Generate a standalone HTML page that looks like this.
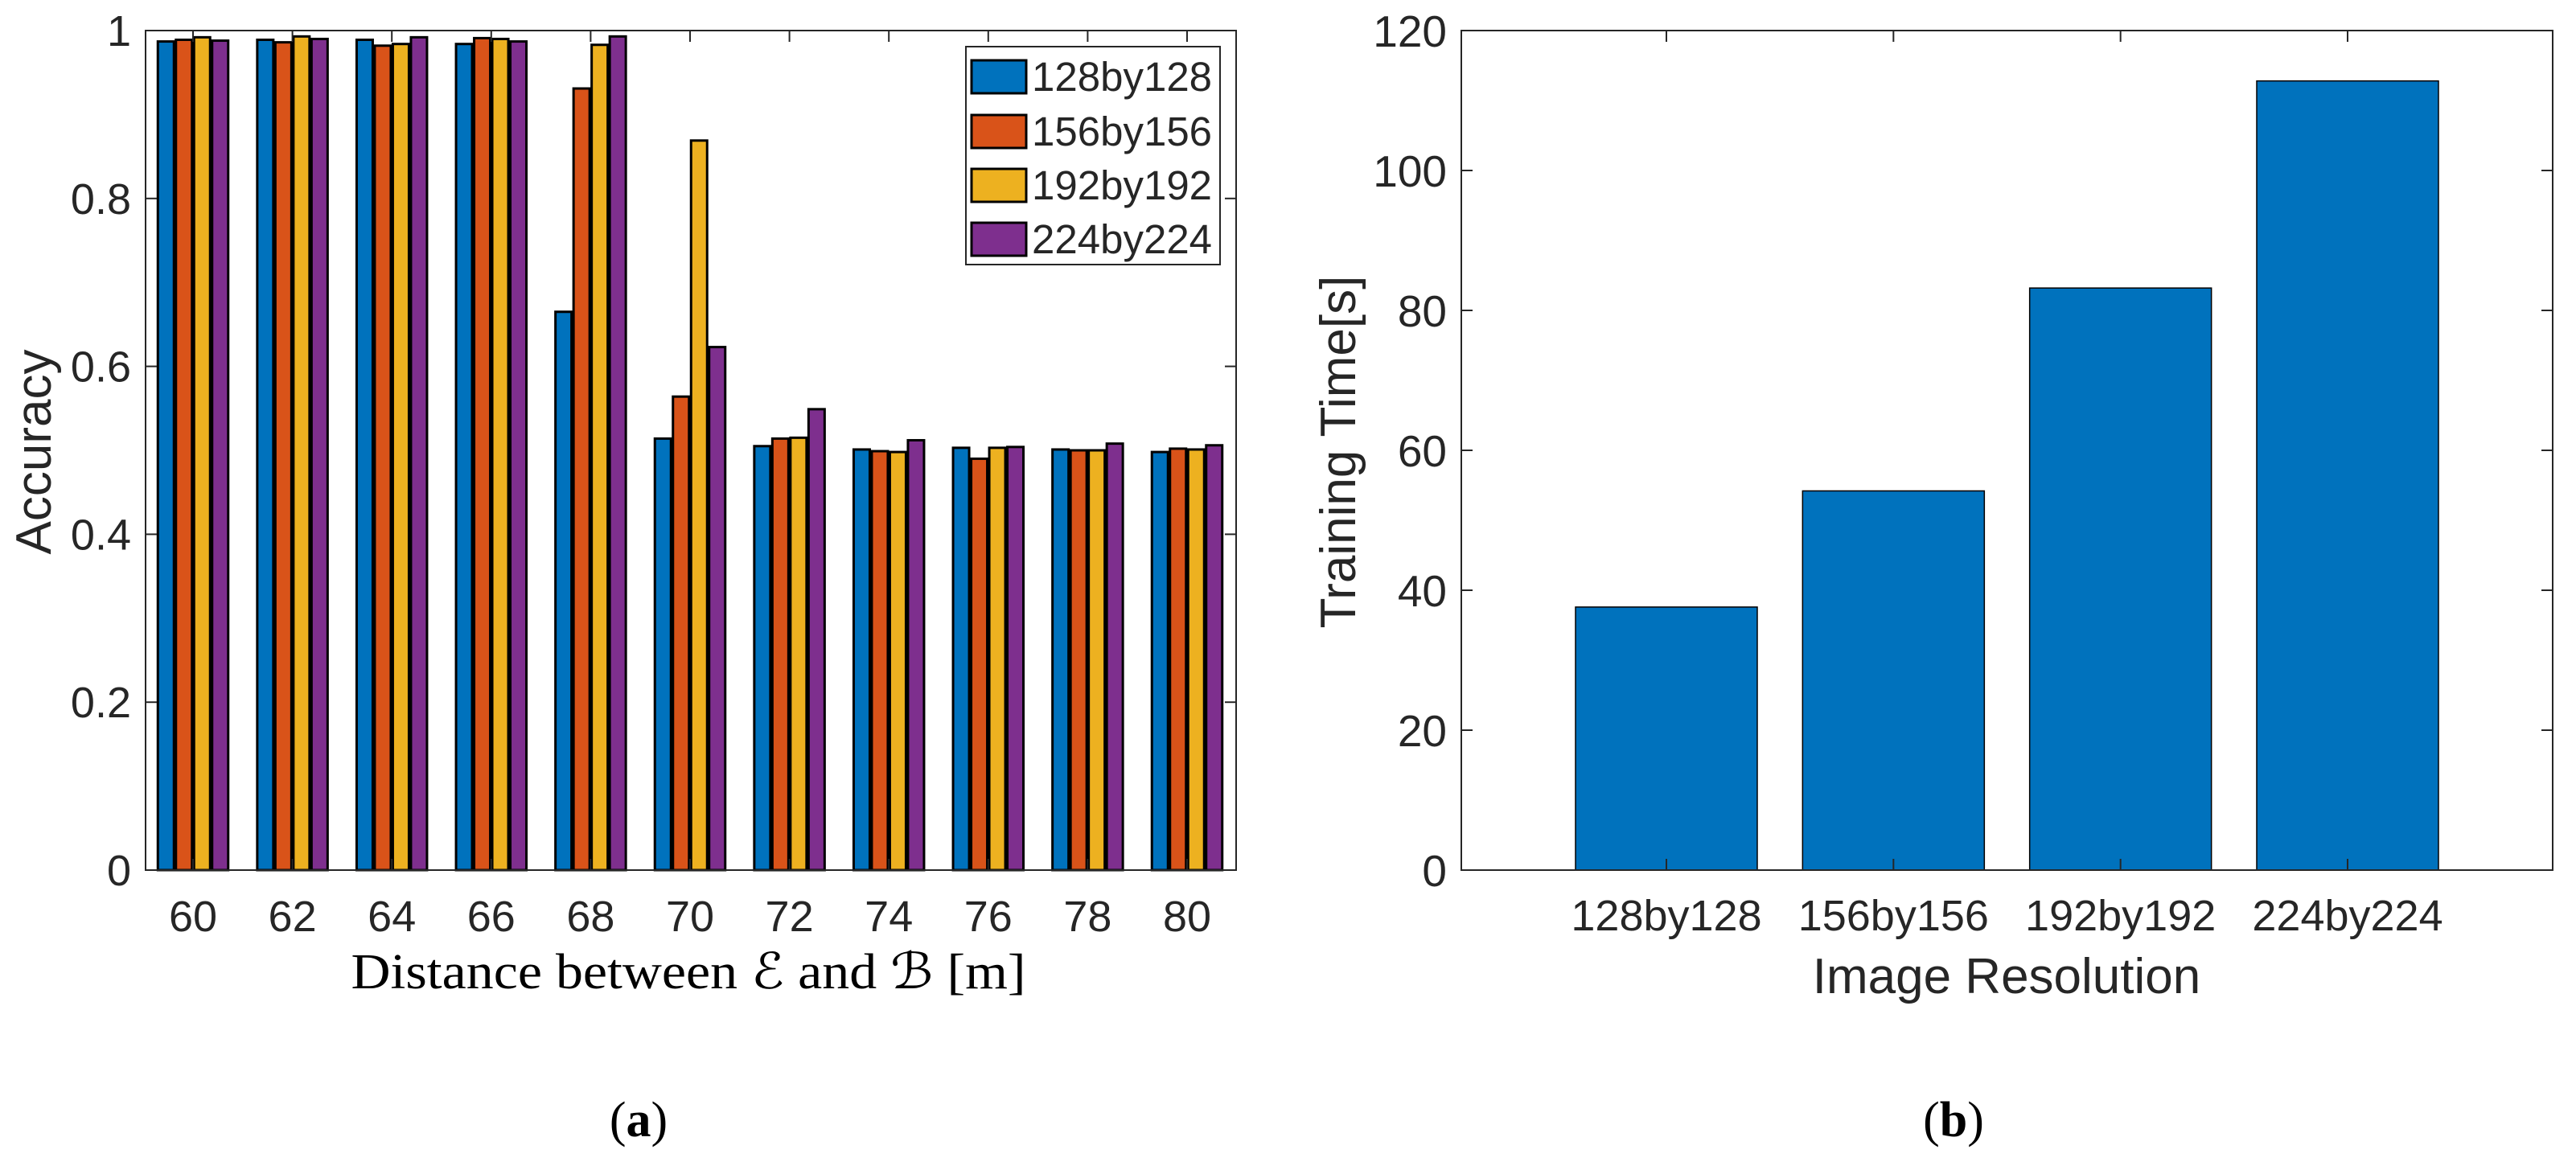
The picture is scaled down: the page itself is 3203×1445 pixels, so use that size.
<!DOCTYPE html>
<html><head><meta charset="utf-8"><style>
html,body{margin:0;padding:0;background:#fff;}
svg{display:block;}
text{fill:#262626;font-family:"Liberation Sans",Arial,sans-serif;}
.serif{font-family:"Liberation Serif",serif;fill:#000;}
</style></head><body>
<svg id="fig" width="3203" height="1445" viewBox="0 0 3203 1445" xmlns="http://www.w3.org/2000/svg">
<g id="chartA"></g>
<g id="chartB"></g>
<text class="serif" x="794" y="1413" font-size="62" text-anchor="middle">(<tspan font-weight="bold">a</tspan>)</text>
<text class="serif" x="2429" y="1413" font-size="62" text-anchor="middle">(<tspan font-weight="bold">b</tspan>)</text>
</svg>
<script>
// ---- Chart A data ----
const distances = [60,62,64,66,68,70,72,74,76,78,80];
const seriesNames = ["128by128","156by156","192by192","224by224"];
const acc128 = [0.987,0.989,0.989,0.984,0.665,0.514,0.505,0.501,0.503,0.501,0.498];
const acc156 = [0.989,0.986,0.982,0.991,0.931,0.564,0.514,0.499,0.490,0.500,0.502];
const acc192 = [0.992,0.993,0.984,0.990,0.983,0.869,0.515,0.498,0.503,0.500,0.501];
const acc224 = [0.988,0.990,0.992,0.987,0.993,0.623,0.549,0.512,0.504,0.508,0.506];
const accTicks = [0,0.2,0.4,0.6,0.8,1];
const accTickLabels = ["0","0.2","0.4","0.6","0.8","1"];
// ---- Chart B data ----
const resolutions = ["128by128","156by156","192by192","224by224"];
const trainTimes = [37.6,54.2,83.2,112.8];
const timeTicks = [0,20,40,60,80,100,120];

const NS="http://www.w3.org/2000/svg";
function mk(tag,attrs,parent,txt){const e=document.createElementNS(NS,tag);for(const k in attrs)e.setAttribute(k,attrs[k]);if(txt!==undefined)e.textContent=txt;parent.appendChild(e);return e;}

// Chart A
(function(){
  const g=document.getElementById('chartA');
  const L=181,R=1537,T=38,B=1082;
  const x0=240, dx=(1476-240)/10;
  const xS=d=>x0+(d-60)/2*dx;
  const yS=v=>B-v*(B-T);
  const colors=["#0072BD","#D95319","#EDB120","#7E2F8E"];
  const series=[acc128,acc156,acc192,acc224];
  const pitch=22.5,bw=20;
  let r=mk('rect',{x:L,y:T,width:R-L,height:B-T,fill:'#fff',stroke:'none'},g);
  
  
  series.forEach((s,si)=>{
    s.forEach((v,i)=>{
      const cx=xS(distances[i])+(si-1.5)*pitch;
      const b=mk('rect',{x:cx-bw/2,y:yS(v),width:bw,height:yS(0)-yS(v),fill:colors[si],stroke:'#000','stroke-width':3},g);
      
      
    });
  });
  const ax=mk('rect',{x:L,y:T,width:R-L,height:B-T,fill:'none',stroke:'#262626','stroke-width':2},g);
  
  
  accTicks.forEach((t,i)=>{
    const y=yS(t);
    mk('line',{x1:L,x2:L+14,y1:y,y2:y,stroke:'#262626','stroke-width':2},g);
    mk('line',{x1:R,x2:R-14,y1:y,y2:y,stroke:'#262626','stroke-width':2},g);
    const tl=mk('text',{x:163,y:y+19,'font-size':54,'text-anchor':'end'},g,accTickLabels[i]);
    
    
  });
  distances.forEach(d=>{
    const x=xS(d);
    mk('line',{x1:x,x2:x,y1:B,y2:B-14,stroke:'#262626','stroke-width':2},g);
    mk('line',{x1:x,x2:x,y1:T,y2:T+14,stroke:'#262626','stroke-width':2},g);
    const tl=mk('text',{x:x,y:1158,'font-size':54,'text-anchor':'middle'},g,String(d));
    
    
  });
  const yl=mk('text',{x:0,y:0,'font-size':62,'text-anchor':'middle',transform:'translate(63,562) rotate(-90)'},g,'Accuracy');
  
  
  const xl=mk('text',{x:856,y:1229,'font-size':62,'text-anchor':'middle',class:'serif',textLength:839,lengthAdjust:'spacingAndGlyphs',fill:'#262626'},g,'Distance between \u2130 and \u212C [m]');
  
  
  // legend
  const lg=mk('g',{},g);
  
  
  mk('rect',{x:1201,y:58,width:316,height:271,fill:'#fff',stroke:'#262626','stroke-width':2},lg);
  const ly=[95,163,230,297];
  seriesNames.forEach((n,i)=>{
    const e=mk('g',{},lg);
    
    
    mk('rect',{x:1208,y:ly[i]-20,width:68,height:41,fill:colors[i],stroke:'#000','stroke-width':3},e);
    mk('text',{x:1283,y:ly[i]+18,'font-size':51,fill:'#000'},e,n);
  });
})();

// Chart B
(function(){
  const g=document.getElementById('chartB');
  const L=1817,R=3174,T=38,B=1082;
  const c0=2072, dc=(2919-2072)/3;
  const xS=i=>c0+i*dc;
  const yS=v=>B-v/120*(B-T);
  const bw=226;
  trainTimes.forEach((v,i)=>{
    const b=mk('rect',{x:xS(i)-bw/2,y:yS(v),width:bw,height:yS(0)-yS(v),fill:'#0072BD',stroke:'#000','stroke-width':1.5},g);
    
    
  });
  const ax=mk('rect',{x:L,y:T,width:R-L,height:B-T,fill:'none',stroke:'#262626','stroke-width':2},g);
  
  
  timeTicks.forEach(t=>{
    const y=yS(t);
    mk('line',{x1:L,x2:L+14,y1:y,y2:y,stroke:'#262626','stroke-width':2},g);
    mk('line',{x1:R,x2:R-14,y1:y,y2:y,stroke:'#262626','stroke-width':2},g);
    const tl=mk('text',{x:1799,y:y+20,'font-size':55,'text-anchor':'end'},g,String(t));
    
    
  });
  resolutions.forEach((r,i)=>{
    const x=xS(i);
    mk('line',{x1:x,x2:x,y1:B,y2:B-14,stroke:'#262626','stroke-width':2},g);
    mk('line',{x1:x,x2:x,y1:T,y2:T+14,stroke:'#262626','stroke-width':2},g);
    const tl=mk('text',{x:x,y:1157,'font-size':54,'text-anchor':'middle'},g,r);
    
    
  });
  const yl=mk('text',{x:0,y:0,'font-size':62,'text-anchor':'middle',transform:'translate(1685,562) rotate(-90)'},g,'Training Time[s]');
  
  
  const xl=mk('text',{x:2495,y:1235,'font-size':62,'text-anchor':'middle'},g,'Image Resolution');
  
  
})();
</script>
</body></html>
